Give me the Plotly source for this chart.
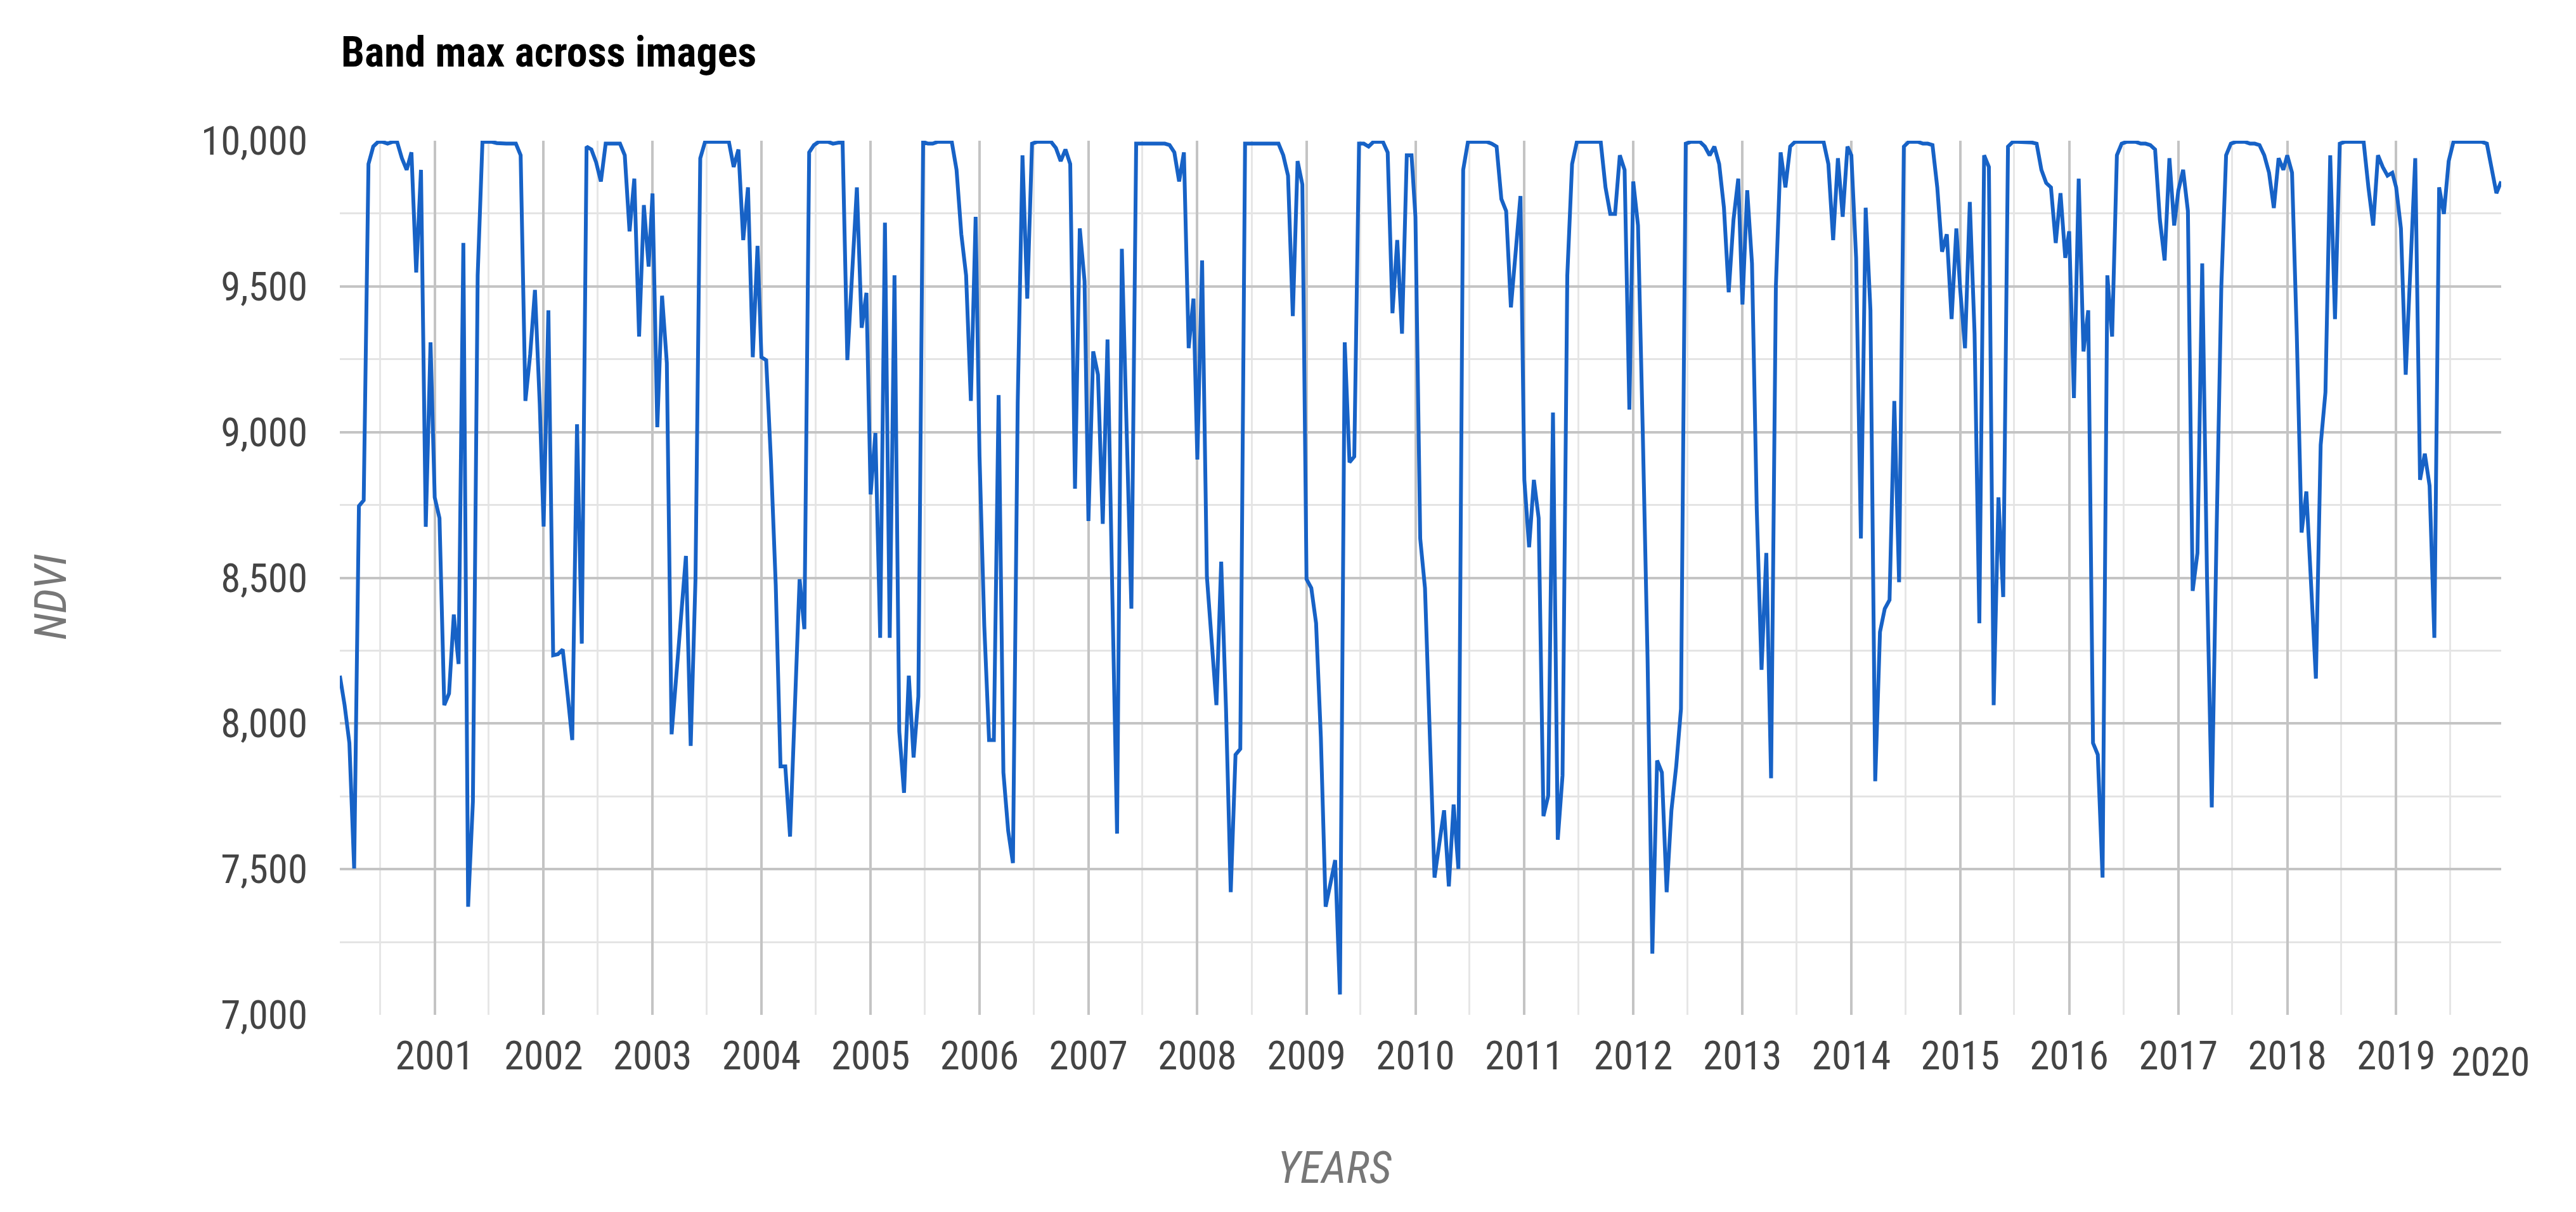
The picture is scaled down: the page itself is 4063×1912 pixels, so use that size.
import pandas as pd
import plotly.graph_objects as go

# ---------------- data (16-day composites, NDVI x 10000) ----------------
first_doy_2000 = 49
composite_step_days = 16

ndvi_2000 = [8164, 8063, 7933, 7502, 8746, 8766, 9920, 9980, 9996, 9996, 9990, 9996, 9996, 9940, 9900, 9960, 9548, 9900, 8675, 9308]
ndvi_2001 = [8776, 8705, 8063, 8103, 8374, 8204, 9649, 7371, 7732, 9538, 9996, 9996, 9996, 9992, 9990, 9990, 9990, 9990, 9950, 9107, 9267, 9488, 9097]
ndvi_2002 = [8676, 9418, 8234, 8238, 8254, 8103, 7943, 9027, 8274, 9980, 9970, 9926, 9860, 9990, 9990, 9990, 9990, 9950, 9689, 9870, 9328, 9779, 9568]
ndvi_2003 = [9819, 9017, 9468, 9237, 7963, 8174, 8374, 8575, 7923, 8495, 9940, 9996, 9996, 9996, 9996, 9996, 9996, 9910, 9970, 9659, 9840, 9257, 9639]
ndvi_2004 = [9257, 9247, 8900, 8475, 7853, 7853, 7612, 8053, 8495, 8324, 9960, 9985, 9996, 9996, 9996, 9990, 9992, 9996, 9247, 9560, 9840, 9358, 9478]
ndvi_2005 = [8786, 8997, 8294, 9719, 8294, 9538, 7973, 7762, 8164, 7883, 8093, 9996, 9990, 9990, 9996, 9996, 9996, 9996, 9900, 9679, 9538, 9107, 9739]
ndvi_2006 = [8916, 8334, 7943, 7943, 9127, 7832, 7632, 7521, 9100, 9950, 9458, 9990, 9996, 9996, 9996, 9996, 9975, 9930, 9970, 9920, 8806, 9699, 9518]
ndvi_2007 = [8695, 9277, 9197, 8685, 9318, 8450, 7622, 9629, 9010, 8394, 9990, 9990, 9990, 9990, 9990, 9990, 9990, 9985, 9960, 9860, 9960, 9288, 9458]
ndvi_2008 = [8906, 9589, 8505, 8284, 8063, 8555, 8053, 7421, 7893, 7913, 9990, 9990, 9990, 9990, 9990, 9990, 9990, 9990, 9950, 9880, 9398, 9930, 9850]
ndvi_2009 = [8495, 8465, 8344, 7953, 7371, 7450, 7531, 7070, 9308, 8896, 8916, 9990, 9990, 9980, 9996, 9996, 9996, 9960, 9408, 9659, 9338, 9950, 9950]
ndvi_2010 = [9739, 8635, 8465, 7929, 7471, 7588, 7702, 7441, 7722, 7501, 9900, 9996, 9996, 9996, 9996, 9996, 9990, 9980, 9800, 9759, 9428, 9615, 9810]
ndvi_2011 = [8836, 8605, 8836, 8705, 7682, 7752, 9067, 7601, 7822, 9538, 9920, 9996, 9996, 9996, 9996, 9996, 9996, 9840, 9749, 9749, 9950, 9900, 9077]
ndvi_2012 = [9860, 9709, 8997, 8223, 7210, 7873, 7832, 7421, 7702, 7853, 8050, 9990, 9996, 9996, 9996, 9980, 9950, 9980, 9920, 9770, 9480, 9729, 9870]
ndvi_2013 = [9438, 9830, 9579, 8735, 8184, 8585, 7812, 9498, 9960, 9840, 9980, 9996, 9996, 9996, 9996, 9996, 9996, 9996, 9920, 9659, 9940, 9739, 9980]
ndvi_2014 = [9950, 9598, 8635, 9770, 9418, 7802, 8314, 8394, 8424, 9107, 8485, 9980, 9996, 9996, 9996, 9990, 9990, 9985, 9840, 9619, 9679, 9388, 9699]
ndvi_2015 = [9488, 9288, 9790, 9338, 8344, 9950, 9910, 8063, 8776, 8434, 9980, 9996, 9996, 9996, 9996, 9994, 9990, 9900, 9855, 9840, 9649, 9820, 9598]
ndvi_2016 = [9689, 9117, 9870, 9277, 9418, 7933, 7893, 7471, 9538, 9328, 9950, 9990, 9996, 9996, 9996, 9990, 9990, 9985, 9970, 9730, 9589, 9940, 9709]
ndvi_2017 = [9829, 9900, 9759, 8455, 8585, 9579, 8505, 7712, 8650, 9498, 9950, 9990, 9996, 9996, 9996, 9990, 9990, 9985, 9950, 9890, 9769, 9940, 9900]
ndvi_2018 = [9950, 9890, 9330, 8655, 8796, 8455, 8154, 8956, 9137, 9950, 9388, 9990, 9996, 9996, 9996, 9996, 9996, 9840, 9709, 9950, 9910, 9880, 9890]
ndvi_2019 = [9840, 9699, 9197, 9598, 9940, 8836, 8926, 8816, 8294, 9840, 9749, 9930, 9996, 9996, 9996, 9996, 9996, 9996, 9996, 9990, 9910, 9820, 9860]

years = list(range(2000, 2020))
yearly_values = [ndvi_2000, ndvi_2001, ndvi_2002, ndvi_2003, ndvi_2004, ndvi_2005, ndvi_2006,
                 ndvi_2007, ndvi_2008, ndvi_2009, ndvi_2010, ndvi_2011, ndvi_2012, ndvi_2013,
                 ndvi_2014, ndvi_2015, ndvi_2016, ndvi_2017, ndvi_2018, ndvi_2019]

title_text = "Band max across images"
y_title = "NDVI"
x_title = "YEARS"
last_year_label = "2020"

# ---------------- build series ----------------
dates, values = [], []
for yr, vals in zip(years, yearly_values):
    start = first_doy_2000 if yr == 2000 else 1
    for i, v in enumerate(vals):
        doy = start + i * composite_step_days
        dates.append(pd.Timestamp(yr, 1, 1) + pd.Timedelta(days=doy - 1))
        values.append(v)

df = pd.DataFrame({"date": dates, "ndvi": values})

FONT = "Liberation Sans Narrow, Arial Narrow, Roboto Condensed, Liberation Sans, Arial, sans-serif"

fig = go.Figure()
fig.add_trace(go.Scatter(
    x=df["date"], y=df["ndvi"], mode="lines",
    line=dict(color="#1762c6", width=6),
    hoverinfo="x+y", showlegend=False,
))

W, H = 4047, 1896
fig.update_layout(
    width=W, height=H,
    margin=dict(l=528, r=110, t=214, b=303, pad=0),
    paper_bgcolor="white", plot_bgcolor="white",
    font=dict(family=FONT, color="#444444", size=60),
    showlegend=False,
    xaxis=dict(
        type="date",
        range=[df["date"].iloc[0], df["date"].iloc[-1]],
        tick0="2001-01-01", dtick="M12", tickformat="%Y",
        showgrid=True, gridcolor="#c4c4c4", gridwidth=3.5,
        minor=dict(dtick="M6", tick0="2001-01-01", showgrid=True,
                   gridcolor="#e6e6e6", gridwidth=3),
        zeroline=False, showline=False, ticks="",
        tickfont=dict(family=FONT, size=63, color="#444444"),
        ticklabelstandoff=22,
    ),
    yaxis=dict(
        range=[7000, 10000], tick0=7000, dtick=500, tickformat=",d",
        showgrid=True, gridcolor="#c4c4c4", gridwidth=3.5,
        minor=dict(dtick=250, showgrid=True, gridcolor="#e4e4e4", gridwidth=3),
        zeroline=False, showline=False, ticks="",
        tickfont=dict(family=FONT, size=63, color="#444444"),
        ticklabelstandoff=50,
    ),
    annotations=[
        dict(text="<b>" + title_text + "</b>", xref="paper", yref="paper",
             x=0, y=1.1015, xanchor="left", yanchor="middle", showarrow=False,
             font=dict(family=FONT, size=66, color="#000000")),
        dict(text="<i>" + y_title + "</i>", xref="paper", yref="paper",
             x=-0.1338, y=0.478, xanchor="center", yanchor="middle", textangle=-90,
             showarrow=False, font=dict(family=FONT, size=70, color="#777777")),
        dict(text="<i>" + x_title + "</i>", xref="paper", yref="paper",
             x=0.4605, y=-0.1748, xanchor="center", yanchor="middle",
             showarrow=False, font=dict(family=FONT, size=70, color="#777777")),
        dict(text=last_year_label, xref="paper", yref="paper",
             x=0.995, y=-0.0537, xanchor="center", yanchor="middle",
             showarrow=False, font=dict(family=FONT, size=63, color="#444444")),
    ],
)

fig.write_html("out.html")
